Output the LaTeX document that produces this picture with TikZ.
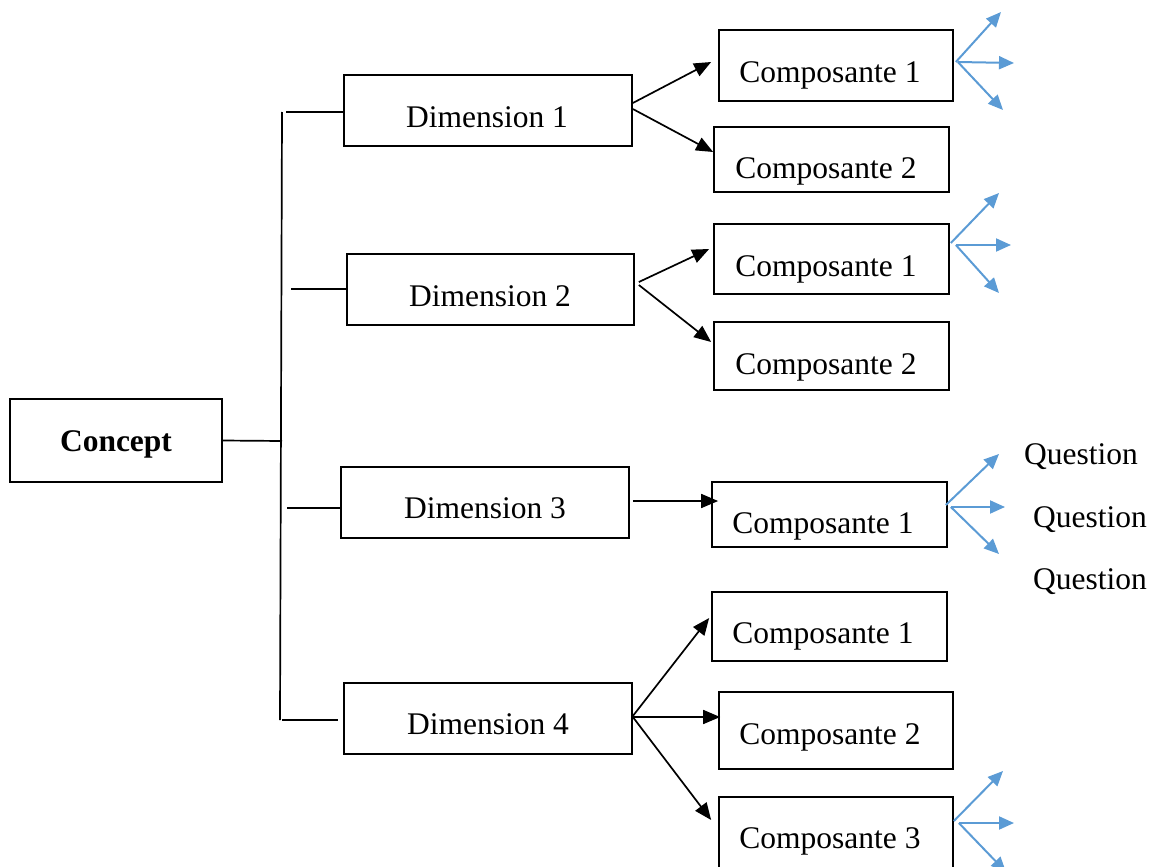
\documentclass[tikz,border=0pt]{standalone}
\usepackage{fontspec}
\setmainfont{Liberation Serif}
\usetikzlibrary{arrows.meta}
\definecolor{qblue}{RGB}{91,155,213}
\begin{document}
\begin{tikzpicture}[x=1pt,y=-1pt,
  box/.style={draw=black,line width=1.7pt,inner sep=0pt},
  txt/.style={anchor=base,inner sep=0pt,font=\fontsize{31.5}{36}\selectfont},
  link/.style={line width=1.7pt},
  arr/.style={line width=1.7pt,-{Triangle[length=17pt,width=14pt]}},
  qarr/.style={draw=qblue,line width=2pt,-{Triangle[length=15pt,width=13pt]}}]
\useasboundingbox (0,0) rectangle (1154,867);

% boxes
\node[box,minimum width=212,minimum height=83] (concept) at (116,440.5) {};
\node[box,minimum width=288,minimum height=71] (d1) at (488,110.5) {};
\node[box,minimum width=287,minimum height=71] (d2) at (490.5,289.5) {};
\node[box,minimum width=288,minimum height=71] (d3) at (485,502.5) {};
\node[box,minimum width=288,minimum height=71] (d4) at (488,718.5) {};

\node[box,minimum width=234,minimum height=71] (c11) at (836,65.5) {};
\node[box,minimum width=235,minimum height=65] (c12) at (831.5,159.5) {};
\node[box,minimum width=235,minimum height=70] (c21) at (831.5,259) {};
\node[box,minimum width=235,minimum height=68] (c22) at (831.5,356) {};
\node[box,minimum width=235,minimum height=65] (c31) at (829.5,514.5) {};
\node[box,minimum width=235,minimum height=69] (c41) at (829.5,626.5) {};
\node[box,minimum width=234,minimum height=77] (c42) at (836,730.5) {};
\node[box,minimum width=234,minimum height=80] (c43) at (836,837) {};

% texts
\node[txt,font=\fontsize{31.5}{36}\selectfont\bfseries] (tconcept) at (116,451) {Concept};
\node[txt] (td1) at (487,127) {Dimension 1};
\node[txt] (td2) at (490,306) {Dimension 2};
\node[txt] (td3) at (485,518) {Dimension 3};
\node[txt] (td4) at (488,734) {Dimension 4};
\node[txt] (tc11) at (830,82) {Composante 1};
\node[txt] (tc12) at (826,178) {Composante 2};
\node[txt] (tc21) at (826,276) {Composante 1};
\node[txt] (tc22) at (826,374) {Composante 2};
\node[txt] (tc31) at (823,533) {Composante 1};
\node[txt] (tc41) at (823,643) {Composante 1};
\node[txt] (tc42) at (830,744) {Composante 2};
\node[txt] (tc43) at (830,848) {Composante 3};
\node[txt] (q1) at (1081,464) {Question};
\node[txt] (q2) at (1090,527) {Question};
\node[txt] (q3) at (1090,589) {Question};

% tree spine and stubs
\coordinate (top) at (282,112);
\coordinate (bot) at (280,720);
\coordinate (j) at (282,441);
\draw[link] (top) -- (bot);
\draw[link] (concept.east) -- (j);
\draw[link] (286,112) -- (d1.west|-286,112);
\draw[link] (291,289) -- (d2.west|-291,289);
\draw[link] (287,508) -- (d3.west|-287,508);
\draw[link] (282,720) -- (338,720);

% dimension -> composante arrows
\draw[arr] ([yshift=7.5pt]d1.east) -- ([xshift=-7pt,yshift=3.5pt]c11.west);
\draw[arr] ([yshift=1.5pt]d1.east) -- ([yshift=7.5pt]c12.west);
\draw[arr] ([xshift=4pt,yshift=7.5pt]d2.east) -- ([xshift=-4pt,yshift=10pt]c21.west);
\draw[arr] ([xshift=4pt,yshift=4.5pt]d2.east) -- ([xshift=-2pt,yshift=14pt]c22.west);
\draw[arr] ([xshift=3pt,yshift=1.5pt]d3.east) -- ([xshift=7pt,yshift=13.5pt]c31.west);
\draw[arr] ([yshift=2.5pt]d4.east) -- ([xshift=-2pt,yshift=8.5pt]c41.west);
\draw[arr] ([yshift=1.5pt]d4.east) -- ([xshift=2pt,yshift=13.5pt]c42.west);
\draw[arr] ([yshift=1.5pt]d4.east) -- ([xshift=-7pt,yshift=17pt]c43.west);

% question arrows
\coordinate (b11a) at (1001,12); \coordinate (b11b) at (1014,63); \coordinate (b11c) at (1003,110);
\draw[qarr] ([xshift=2pt,yshift=3.5pt]c11.east) -- (b11a);
\draw[qarr] ([xshift=4pt,yshift=3.5pt]c11.east) -- (b11b);
\draw[qarr] ([xshift=4pt,yshift=3.5pt]c11.east) -- (b11c);
\coordinate (b21a) at (999,193); \coordinate (b21b) at (1011,245); \coordinate (b21c) at (999,293);
\draw[qarr] ([xshift=1pt,yshift=16pt]c21.east) -- (b21a);
\draw[qarr] ([xshift=6pt,yshift=14pt]c21.east) -- (b21b);
\draw[qarr] ([xshift=6pt,yshift=14pt]c21.east) -- (b21c);
\coordinate (b31a) at (999,454); \coordinate (b31b) at (1005,507); \coordinate (b31c) at (999,554);
\draw[qarr] ([xshift=-2pt,yshift=9.5pt]c31.east) -- (b31a);
\draw[qarr] ([xshift=3pt,yshift=7.5pt]c31.east) -- (b31b);
\draw[qarr] ([xshift=3pt,yshift=7.5pt]c31.east) -- (b31c);
\coordinate (b43a) at (1003,771); \coordinate (b43b) at (1014,823); \coordinate (b43c) at (1006,872);
\draw[qarr] ([yshift=16pt]c43.east) -- (b43a);
\draw[qarr] ([xshift=5pt,yshift=14pt]c43.east) -- (b43b);
\draw[qarr] ([xshift=5pt,yshift=14pt]c43.east) -- (b43c);
\end{tikzpicture}
\end{document}
